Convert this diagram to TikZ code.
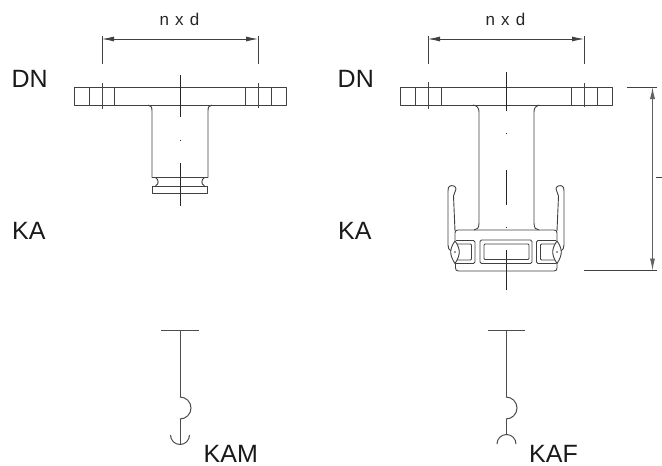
\documentclass[tikz,border=0pt]{standalone}
\usepackage{fontspec}
\setmainfont{Liberation Sans}
\newfontfamily\dimfont[WordSpace=1.3]{Liberation Sans}
\usetikzlibrary{arrows.meta}
\tikzset{
  x=1pt,y=-1pt,
  ln/.style={draw=black!75,line width=0.9pt,line join=round},
  thin ln/.style={draw=black!72,line width=0.75pt},
  axis/.style={draw=black!85,line width=0.85pt},
  sym/.style={draw=black!70,line width=1pt},
  dim/.style={draw=black!75,line width=0.8pt},
  tips/.style={{Latex[length=12pt,width=5pt]}-{Latex[length=12pt,width=5pt]}},
  dimarrow/.style={dim,tips},
  lbl/.style={font=\fontsize{25}{26}\selectfont,text=black!90,inner sep=0pt,anchor=base west},
  sm/.style={font=\dimfont\fontsize{17}{18}\selectfont,text=black!85,inner sep=0pt,anchor=base}
}
\begin{document}
\begin{tikzpicture}
\useasboundingbox (0,0) rectangle (662,466);
% labels
\node[lbl] (dn1) at (11.5,87) {DN};
\node[lbl] (ka1) at (12,239) {KA};
\node[lbl] (dn2) at (337.5,87) {DN};
\node[lbl] (ka2) at (338,239) {KA};
\node[lbl] (kam) at (203.5,462) {KAM};
\node[lbl] (kaf) at (529,462) {KAF};
\node[sm] (nd1) at (179.5,25) {n x d};
\node[sm] (nd2) at (505.5,25) {n x d};
% left dim
\draw[dim] (102,36)--(102,64) (258,36)--(258,64);
\draw[dimarrow] (102,39)--(258,39);
% left flange
\draw[ln] (74,87) rectangle (286,105);
\draw[ln] (89,87)--(89,105) (114.5,87)--(114.5,105) (245,87)--(245,105) (271,87)--(271,105);
\draw[thin ln] (102,83)--(102,109) (258,83)--(258,108);
\draw[axis] (180,75)--(180,117) (180,139.6)--(180,140.6) (180,163)--(180,206);
% left body
\draw[ln] (148,105) .. controls (151,105.5) and (152,107) .. (152,111) -- (152,177.5);
\draw[ln] (212,105) .. controls (209,105.5) and (208,107) .. (208,111) -- (208,177.5);
\draw[ln] (152,177.5)--(208,177.5);
\draw[ln] (155.5,177.5) .. controls (159,180) and (159,184) .. (155.5,186);
\draw[ln] (204.5,177.5) .. controls (201,180) and (201,184) .. (204.5,186);
\draw[ln] (152.5,186) rectangle (207.5,193.5);
% right dim
\draw[dim] (428,36)--(428,64) (584,36)--(584,64);
\draw[dimarrow] (428,39)--(584,39);
% right flange
\draw[ln] (400,87) rectangle (612,105);
\draw[ln] (415,87)--(415,105) (441,87)--(441,105) (571.5,87)--(571.5,105) (597.5,87)--(597.5,105);
\draw[thin ln] (428,82)--(428,109) (584,83)--(584,107);
\draw[axis] (506,72)--(506,111) (506,133)--(506,134) (506,170)--(506,204.5) (506,227)--(506,228) (506,250)--(506,290);
% right body
\draw[ln] (473,105) .. controls (477,105.5) and (479,108) .. (479,112) -- (479,223) .. controls (479,228) and (477,230) .. (474,230);
\draw[ln] (539,105) .. controls (536,105.5) and (534,108) .. (534,112) -- (534,223) .. controls (534,228) and (536,230) .. (539,230);
% coupling body
\draw[ln] (455,250) -- (455,233) .. controls (455,231) and (456,230) .. (458,230) -- (554,230) .. controls (556,230) and (557,231) .. (557,233) -- (557,250);
\draw[ln] (455.5,262) -- (455.5,268) .. controls (455.5,270) and (456.5,271) .. (458.5,271) -- (554,271) .. controls (556,271) and (557,270) .. (557,268) -- (557,262);
% windows
\draw[ln,rounded corners=1.5pt] (480,240) rectangle (532,263.5);
\draw[ln,rounded corners=1pt] (484,244) rectangle (529,259.5);
\draw[ln,rounded corners=1.5pt] (456,240.5) -- (475,240.5) -- (475,263.5) -- (456,263.5);
\draw[ln,rounded corners=1pt] (456,244) -- (471.5,244) -- (471.5,260) -- (456,260);
\draw[ln,rounded corners=1.5pt] (556,240.5) -- (536.5,240.5) -- (536.5,263.5) -- (556,263.5);
\draw[ln,rounded corners=1pt] (556,244) -- (540.5,244) -- (540.5,260) -- (556,260);
% levers
\draw[ln] (455,231) -- (453.5,196) .. controls (453.5,193) and (456,192) .. (456,189) .. controls (456,186) and (452,185) .. (450,186) .. controls (448.5,186.5) and (448,188) .. (448,191) -- (448,245) .. controls (448,248) and (449,250) .. (451,251);
\draw[ln] (557,231) -- (558.5,196) .. controls (558.5,193) and (556,192) .. (556,189) .. controls (556,186) and (560,185) .. (562,186) .. controls (563.5,186.5) and (564,188) .. (564,191) -- (564,245) .. controls (564,248) and (563,250) .. (561,251);
% eccentric
\draw[ln,fill=white] (455,241) .. controls (452,245) and (450.7,249) .. (450.7,252) .. controls (450.7,255) and (452,259) .. (455,263.5) .. controls (458,259) and (459.3,255) .. (459.3,252) .. controls (459.3,249) and (458,245) .. (455,241);
\draw[ln,fill=white] (557,241) .. controls (554,245) and (552.7,249) .. (552.7,252) .. controls (552.7,255) and (554,259) .. (557,263.5) .. controls (560,259) and (561.3,255) .. (561.3,252) .. controls (561.3,249) and (560,245) .. (557,241);
\fill[black!80] (455,252) circle (0.9) (557,252) circle (0.9);
% height dim
\draw[dim] (626.5,87)--(657,87) (584,270.5)--(657,270.5);
\draw[dim,draw=black!62,line width=0.95pt,tips] (652.5,87)--(652.5,270.5);
\draw[dim,line width=1pt] (656,177.5)--(662,177.5);
% KAM symbol
\draw[sym] (161,330)--(199,330);
\draw[sym] (180,330)--(180,397);
\draw[sym] (180,397) arc[start angle=-90,end angle=90,radius=11];
\draw[sym] (180,419)--(180,445);
\draw[sym] (170.5,435) arc[start angle=180,end angle=0,radius=9.5];
% KAF symbol
\draw[sym] (488,330)--(524.5,330);
\draw[sym] (506,330)--(506,397);
\draw[sym] (506,397) arc[start angle=-90,end angle=90,radius=11];
\draw[sym] (506,419)--(506,435);
\draw[sym] (497,444) arc[start angle=180,end angle=360,radius=9.5];
\end{tikzpicture}
\end{document}
